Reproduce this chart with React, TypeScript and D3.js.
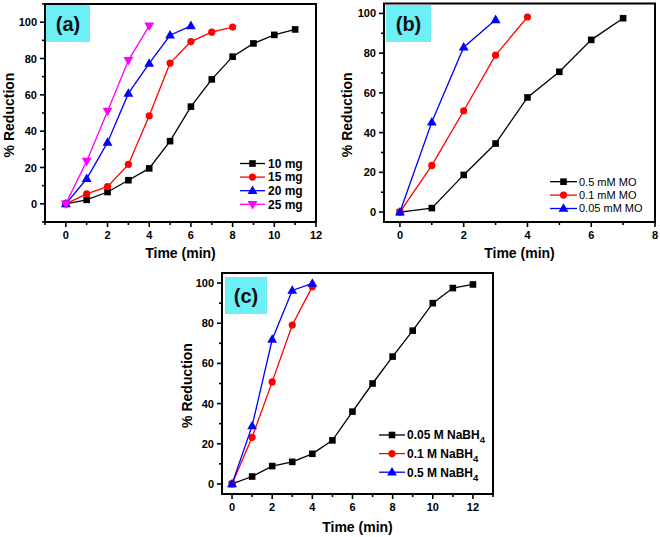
import React from "react";
import * as d3 from "d3";

// ---------- Panel (a) data ----------
const timeA10 = [0, 1, 2, 3, 4, 5, 6, 7, 8, 9, 10, 11];
const red10mg = [0, 2.2, 6.5, 13, 19.5, 34.5, 53.5, 68.5, 81, 88.3, 93, 96];
const timeA15 = [0, 1, 2, 3, 4, 5, 6, 7, 8];
const red15mg = [0, 5.5, 9.5, 21.7, 48.5, 77.5, 89.3, 94.5, 97.3];
const timeA20 = [0, 1, 2, 3, 4, 5, 6];
const red20mg = [0, 13.8, 33.8, 60.8, 77.3, 92.8, 98];
const timeA25 = [0, 1, 2, 3, 4];
const red25mg = [0, 23.5, 51, 79, 98];
const legendA = ["10 mg", "15 mg", "20 mg", "25 mg"];

// ---------- Panel (b) data ----------
const timeB05 = [0, 1, 2, 3, 4, 5, 6, 7];
const red05mM = [0, 2, 18.7, 34.5, 57.7, 70.6, 86.7, 97.6];
const timeB01 = [0, 1, 2, 3, 4];
const red01mM = [0, 23.5, 51, 79, 98.2];
const timeB005 = [0, 1, 2, 3];
const red005mM = [0, 45.3, 83, 96.8];
const legendB = ["0.5 mM MO", "0.1 mM MO", "0.05 mM MO"];

// ---------- Panel (c) data ----------
const timeC005 = [0, 1, 2, 3, 4, 5, 6, 7, 8, 9, 10, 11, 12];
const red005M = [0, 3.7, 8.9, 11, 15, 21.7, 36, 50, 63.4, 76.3, 90, 97.5, 99.3];
const timeC01 = [0, 1, 2, 3, 4];
const red01M = [0, 23.2, 50.8, 79.1, 98.2];
const timeC05 = [0, 1, 2, 3, 4];
const red05M = [0, 28.9, 71.9, 96.3, 99.8];
const legendC = ["0.05 M NaBH", "0.1 M NaBH", "0.5 M NaBH"];

const FONT = "'Liberation Sans', Arial, Helvetica, sans-serif";
const CYAN = "#6cf0f6";

type Series = { x: number[]; y: number[]; color: string; shape: string; label: string; sub?: string };
type PanelCfg = {
  left: number; right: number; top: number; bottom: number;
  xDomain: [number, number]; yDomain: [number, number];
  xMajor: number[]; xMinor: number[]; yMajor: number[]; yMinor: number[];
  series: Series[];
  legend: { x1: number; x2: number; tx: number; y0: number; dy: number; size: number; weight: string };
  tag: string; tagBox: [number, number, number, number];
  yTitleX: number; xTitleY: number;
};

function marker(shape: string, color: string, cx: number, cy: number, key: string) {
  if (shape === "square") {
    return <rect key={key} x={cx - 3.3} y={cy - 3.3} width={6.6} height={6.6} fill={color} />;
  }
  if (shape === "circle") {
    return <circle key={key} cx={cx} cy={cy} r={3.6} fill={color} />;
  }
  const p = d3.symbol().type(d3.symbolTriangle).size(42)() as string;
  const rot = shape === "down" ? 180 : 0;
  return <path key={key} d={p} fill={color} transform={`translate(${cx},${cy + (shape === "down" ? -0.5 : 0.5)}) rotate(${rot})`} />;
}

function Panel({ cfg }: { cfg: PanelCfg }) {
  const x = d3.scaleLinear().domain(cfg.xDomain).range([cfg.left, cfg.right]);
  const y = d3.scaleLinear().domain(cfg.yDomain).range([cfg.bottom, cfg.top]);
  const line = d3.line<[number, number]>().x((d) => x(d[0])).y((d) => y(d[1]));
  const lg = cfg.legend;
  const midX = (cfg.left + cfg.right) / 2;
  const midY = (cfg.top + cfg.bottom) / 2;
  return (
    <g>
      {/* tag box */}
      <rect x={cfg.tagBox[0]} y={cfg.tagBox[1]} width={cfg.tagBox[2]} height={cfg.tagBox[3]} fill={CYAN} />
      <text x={cfg.tagBox[0] + cfg.tagBox[2] / 2} y={cfg.tagBox[1] + cfg.tagBox[3] / 2 + 7} textAnchor="middle"
        fontFamily={FONT} fontWeight="bold" fontSize={20} fill="#111">{cfg.tag}</text>
      {/* ticks */}
      {cfg.xMajor.map((t) => (
        <g key={"xM" + t}>
          <line x1={x(t)} x2={x(t)} y1={cfg.bottom} y2={cfg.bottom + 5} stroke="#000" strokeWidth={1.6} />
          <text x={x(t)} y={cfg.bottom + 17} textAnchor="middle" fontFamily={FONT} fontWeight="bold" fontSize={11}>{t}</text>
        </g>
      ))}
      {cfg.xMinor.map((t) => (
        <line key={"xm" + t} x1={x(t)} x2={x(t)} y1={cfg.bottom} y2={cfg.bottom + 3} stroke="#000" strokeWidth={1.6} />
      ))}
      {cfg.yMajor.map((t) => (
        <g key={"yM" + t}>
          <line x1={cfg.left} x2={cfg.left - 5} y1={y(t)} y2={y(t)} stroke="#000" strokeWidth={1.6} />
          <text x={cfg.left - 8} y={y(t) + 4} textAnchor="end" fontFamily={FONT} fontWeight="bold" fontSize={11}>{t}</text>
        </g>
      ))}
      {cfg.yMinor.map((t) => (
        <line key={"ym" + t} x1={cfg.left} x2={cfg.left - 3} y1={y(t)} y2={y(t)} stroke="#000" strokeWidth={1.6} />
      ))}
      {/* series */}
      {cfg.series.map((s, i) => {
        const pts: [number, number][] = s.x.map((v, j) => [v, s.y[j]]);
        return (
          <g key={"s" + i}>
            <path d={line(pts) as string} fill="none" stroke={s.color} strokeWidth={1.3} />
            {pts.map((p, j) => marker(s.shape, s.color, x(p[0]), y(p[1]), "m" + j))}
          </g>
        );
      })}
      {/* frame */}
      <rect x={cfg.left} y={cfg.top} width={cfg.right - cfg.left} height={cfg.bottom - cfg.top} fill="none" stroke="#000" strokeWidth={2} />
      {/* legend */}
      {cfg.series.map((s, i) => {
        const ly = lg.y0 + i * lg.dy;
        return (
          <g key={"l" + i}>
            <line x1={lg.x1} x2={lg.x2} y1={ly} y2={ly} stroke={s.color} strokeWidth={1.3} />
            {marker(s.shape, s.color, (lg.x1 + lg.x2) / 2, ly, "lm")}
            <text x={lg.tx} y={ly + lg.size * 0.36} fontFamily={FONT} fontWeight={lg.weight} fontSize={lg.size}>
              {s.label}
              {s.sub ? <tspan dy={4} fontSize={lg.size * 0.8}>{s.sub}</tspan> : null}
            </text>
          </g>
        );
      })}
      {/* axis titles */}
      <text x={midX} y={cfg.xTitleY} textAnchor="middle" fontFamily={FONT} fontWeight="bold" fontSize={14}>Time (min)</text>
      <text transform={`translate(${cfg.yTitleX},${midY + 2}) rotate(-90)`} textAnchor="middle" fontFamily={FONT} fontWeight="bold" fontSize={14}>% Reduction</text>
    </g>
  );
}

const odd = (a: number, b: number) => d3.range(a, b + 0.001, 2);

const panelA: PanelCfg = {
  left: 45, right: 316, top: 4, bottom: 222,
  xDomain: [-1, 12], yDomain: [-10, 110],
  xMajor: d3.range(0, 13, 2), xMinor: odd(-1, 11),
  yMajor: d3.range(0, 101, 20), yMinor: d3.range(-10, 111, 20),
  series: [
    { x: timeA10, y: red10mg, color: "#000000", shape: "square", label: legendA[0] },
    { x: timeA15, y: red15mg, color: "#ff0000", shape: "circle", label: legendA[1] },
    { x: timeA20, y: red20mg, color: "#0000ff", shape: "up", label: legendA[2] },
    { x: timeA25, y: red25mg, color: "#ff00ff", shape: "down", label: legendA[3] },
  ],
  legend: { x1: 240, x2: 265, tx: 268, y0: 163.5, dy: 13.6, size: 12, weight: "bold" },
  tag: "(a)", tagBox: [46, 5, 44, 37],
  yTitleX: 14, xTitleY: 258,
};

const panelB: PanelCfg = {
  left: 384, right: 655, top: 3.5, bottom: 222,
  xDomain: [-0.5, 8], yDomain: [-5, 105],
  xMajor: d3.range(0, 9, 2), xMinor: odd(1, 7),
  yMajor: d3.range(0, 101, 20), yMinor: d3.range(10, 91, 20),
  series: [
    { x: timeB05, y: red05mM, color: "#000000", shape: "square", label: legendB[0] },
    { x: timeB01, y: red01mM, color: "#ff0000", shape: "circle", label: legendB[1] },
    { x: timeB005, y: red005mM, color: "#0000ff", shape: "up", label: legendB[2] },
  ],
  legend: { x1: 550, x2: 577, tx: 579, y0: 181.7, dy: 13.4, size: 11, weight: "normal" },
  tag: "(b)", tagBox: [386, 5, 45, 37],
  yTitleX: 352, xTitleY: 258,
};

const panelC: PanelCfg = {
  left: 222, right: 493, top: 273, bottom: 494,
  xDomain: [-0.5, 13], yDomain: [-5, 105],
  xMajor: d3.range(0, 13, 2), xMinor: odd(1, 13),
  yMajor: d3.range(0, 101, 20), yMinor: d3.range(10, 91, 20),
  series: [
    { x: timeC005, y: red005M, color: "#000000", shape: "square", label: legendC[0], sub: "4" },
    { x: timeC01, y: red01M, color: "#ff0000", shape: "circle", label: legendC[1], sub: "4" },
    { x: timeC05, y: red05M, color: "#0000ff", shape: "up", label: legendC[2], sub: "4" },
  ],
  legend: { x1: 379, x2: 405, tx: 407, y0: 435, dy: 18.6, size: 12, weight: "bold" },
  tag: "(c)", tagBox: [225, 277, 42, 37],
  yTitleX: 192, xTitleY: 532,
};

export default function App() {
  return (
    <svg width={660} height={537} style={{ position: "absolute", left: 0, top: 0, background: "#fff" }}>
      <rect width={660} height={537} fill="#fff" />
      <Panel cfg={panelA} />
      <Panel cfg={panelB} />
      <Panel cfg={panelC} />
    </svg>
  );
}
